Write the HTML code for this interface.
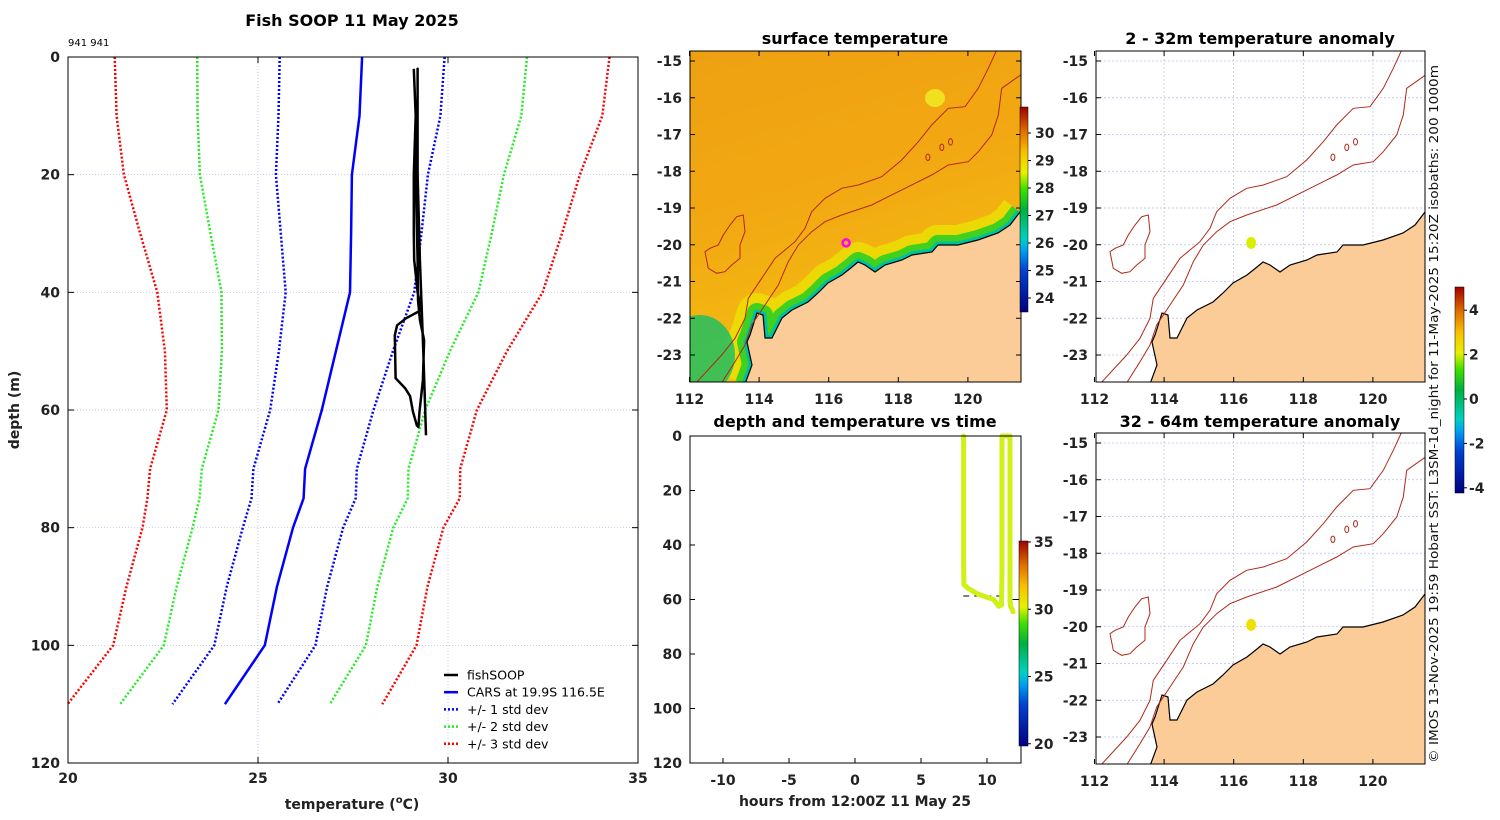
<!DOCTYPE html>
<html><head><meta charset="utf-8"><style>
html,body{margin:0;padding:0;background:#fff;}
svg{display:block;font-family:"DejaVu Sans","Liberation Sans",sans-serif;}
.tk{font-size:14px;font-weight:bold;fill:#222;}
.ttl{font-size:16px;font-weight:bold;fill:#000;}
</style></head><body>
<svg id="fig" width="1500" height="820" viewBox="0 0 1500 820">
<defs>
<linearGradient id="sstbar" x1="0" y1="1" x2="0" y2="0">
<stop offset="0" stop-color="#000080"/><stop offset="0.2" stop-color="#0040d0"/><stop offset="0.3" stop-color="#00a0f0"/><stop offset="0.36" stop-color="#00d0c0"/><stop offset="0.5" stop-color="#00b040"/><stop offset="0.6" stop-color="#40e000"/><stop offset="0.68" stop-color="#e8f000"/><stop offset="0.78" stop-color="#f8c000"/><stop offset="0.88" stop-color="#e07000"/><stop offset="1" stop-color="#a00000"/>
</linearGradient>
<linearGradient id="sstbg" x1="0" y1="0" x2="0.3" y2="1">
<stop offset="0" stop-color="#eea012"/><stop offset="0.5" stop-color="#f2a812"/><stop offset="1" stop-color="#f4c010"/>
</linearGradient>
<clipPath id="clipM"><rect x="690" y="51" width="331" height="331"/></clipPath>
<clipPath id="clipR1"><rect x="1096" y="51" width="329" height="331"/></clipPath>
<clipPath id="clipR2"><rect x="1096" y="433" width="329" height="331"/></clipPath>
</defs>
</svg>
<script>
// ---------- data ----------
const cardDepth = [0,10,20,30,40,50,60,70,75,80,90,100,110];
const cardMean  = [27.74,27.67,27.47,27.45,27.42,27.05,26.68,26.24,26.2,25.92,25.5,25.18,24.13];
const cardSd    = [2.17,2.13,2.0,1.85,1.69,1.5,1.36,1.36,1.37,1.32,1.32,1.33,1.38];
const fishDepth = [2,10,20,30,34.5,40,43,44.4,45.6,47.3,54.6,56.3,57.6,60.3,62.6,62.9,60.3,54.9,48.1,44.7,41.3,34.5,20,10,2,20,34.5,50,64.3];
const fishTemp  = [29.1,29.15,29.1,29.1,29.11,29.2,29.3,28.9,28.66,28.6,28.62,28.87,29.0,29.08,29.18,29.22,29.25,29.34,29.37,29.26,29.21,29.2,29.15,29.2,29.2,29.2,29.26,29.35,29.42];
const xTicks = [20,25,30,35];
const yTicks = [0,20,40,60,80,100,120];
const trackHour  = [8.23,8.23,8.23,8.23,8.25,8.6,9.3,9.9,10.5,10.9,11.1,11.14,11.14,11.14,11.74,11.74,11.74,11.78,11.9,11.97];
const trackDepth = [0,15,30,45,54.5,56,58,59,60,62.5,62,50,25,0,0,30,60,62.5,63.5,64.5];
const hourTicks = [-10,-5,0,5,10];
const sstTicks = [30,29,28,27,26,25,24];
const anomTicks = [4,2,0,-2,-4];
const tempTicks = [35,30,25,20];
const lonTicks = [112,114,116,118,120];
const latTicks = [-15,-16,-17,-18,-19,-20,-21,-22,-23];
// geography (lon,lat)
const refToLL = p => [112+(p[0]-1094.5)/34.8, -15-(p[1]-61)/36.75];
const coastLL = [[1425,212],[1415,225],[1403,233],[1383,240],[1363,245],[1343,245],[1337,252],[1317,255],[1307,260],[1290,265],[1280,272],[1270,265],[1263,262],[1257,267],[1247,275],[1233,283],[1223,293],[1213,302],[1197,310],[1187,318],[1180,332],[1177,338],[1170,338],[1168,315],[1162,313],[1155,335],[1152,342],[1157,365],[1150,384]].map(refToLL);
const iso1000 = [[1401.7,50],[1393.3,68.3],[1383.3,88.3],[1370,106.7],[1353.3,108.3],[1336.7,125],[1323.3,141.7],[1306.7,160],[1286.7,176.7],[1263.3,185],[1246.7,188.3],[1230,198.3],[1216.7,211.7],[1210,228.3],[1200,241.7],[1180,258.3],[1166.7,278.3],[1153.3,298.3],[1150,318.3],[1140,338.3],[1126.7,355],[1100,384]].map(refToLL);
const iso200 = [[1428,73.3],[1406.7,88.3],[1403.3,115],[1396.7,135],[1383.3,151.7],[1373.3,161.7],[1353.3,165],[1336.7,175],[1323.3,181.7],[1303.3,191.7],[1276.7,205],[1246.7,215],[1230,221.7],[1216.7,231.7],[1203.3,245],[1193.3,261.7],[1183.3,285],[1170,305],[1156.7,325],[1150,345],[1140,361.7],[1126,384]].map(refToLL);
const islandLL = [[1148.3,215],[1150,231.7],[1145,245],[1145,258.3],[1136.7,265],[1130,271.7],[1121.7,273.3],[1113.3,268.3],[1110,251.7],[1115,248.3],[1123.3,245],[1128.3,235],[1135,225],[1141.7,216.7]].map(refToLL);
const shipLon = 116.5, shipLat = -19.95;

// ---------- helpers ----------
const NS = 'http://www.w3.org/2000/svg';
const svg = document.getElementById('fig');
function mk(tag, attrs, parent){const e=document.createElementNS(NS,tag);for(const k in attrs)e.setAttribute(k,attrs[k]);(parent||svg).appendChild(e);return e;}
function txt(s, attrs, parent){const e=mk('text',attrs,parent);e.textContent=s;return e;}

// ---------- left profile panel ----------
const L={x0:68,x1:638,y0:57,y1:763};
const px = t => L.x0+(t-20)/15*(L.x1-L.x0);
const py = d => L.y0+d/120*(L.y1-L.y0);
let g = mk('g',{});


for(const t of [25,30]){
  const ln=mk('line',{x1:px(t),x2:px(t),y1:L.y0,y2:L.y1,stroke:'#aab4e6','stroke-width':0.7,'stroke-dasharray':'1,2'},g);
  
  
}
for(const d of [20,40,60,80,100]){
  const ln=mk('line',{x1:L.x0,x2:L.x1,y1:py(d),y2:py(d),stroke:'#aab4e6','stroke-width':0.7,'stroke-dasharray':'1,2'},g);
  
  
}
const sdCols={1:'#0000ff',2:'#22ee22',3:'#ff0000'};
for(const k of [1,2,3]){
  for(const s of [-1,1]){
    const pts=cardDepth.map((d,i)=>px(cardMean[i]+s*k*cardSd[i]).toFixed(1)+','+py(d).toFixed(1)).join(' ');
    const pl=mk('polyline',{points:pts,fill:'none',stroke:sdCols[k],'stroke-width':2.5,'stroke-dasharray':'2,2'},g);
    
    
  }
}
const cars=mk('polyline',{points:cardDepth.map((d,i)=>px(cardMean[i]).toFixed(1)+','+py(d).toFixed(1)).join(' '),fill:'none',stroke:'#0000ff','stroke-width':2.5},g);


const fish=mk('polyline',{points:fishDepth.map((d,i)=>px(fishTemp[i]).toFixed(1)+','+py(d).toFixed(1)).join(' '),fill:'none',stroke:'#000','stroke-width':2.5,'stroke-linejoin':'round'},g);


const lbox=mk('rect',{x:L.x0,y:L.y0,width:L.x1-L.x0,height:L.y1-L.y0,fill:'none',stroke:'#000','stroke-width':1},g);


for(const t of xTicks){
  mk('line',{x1:px(t),x2:px(t),y1:L.y1,y2:L.y1-6,stroke:'#000'},g);
  mk('line',{x1:px(t),x2:px(t),y1:L.y0,y2:L.y0+6,stroke:'#000'},g);
  const e=txt(String(t),{x:px(t),y:L.y1+20,'text-anchor':'middle',class:'tk'},g);
  
  
}
for(const d of yTicks){
  mk('line',{x1:L.x0,x2:L.x0+6,y1:py(d),y2:py(d),stroke:'#000'},g);
  mk('line',{x1:L.x1,x2:L.x1-6,y1:py(d),y2:py(d),stroke:'#000'},g);
  const e=txt(String(d),{x:L.x0-8,y:py(d)+5,'text-anchor':'end',class:'tk'},g);
  
  
}
let e;
e=txt('Fish SOOP 11 May 2025',{x:352,y:26,'text-anchor':'middle',class:'ttl'},g);


e=txt('941 941',{x:68,y:46,'font-size':'10px',fill:'#000'},g);


e=txt('depth (m)',{x:0,y:0,transform:'translate(19,410) rotate(-90)','text-anchor':'middle',class:'tk','font-size':'15px'},g);


e=mk('text',{x:352,y:809,'text-anchor':'middle',class:'tk','font-size':'15px'},g);
e.innerHTML='temperature (<tspan font-size="10px" dy="-6">o</tspan><tspan dy="6">C)</tspan>';


const legItems=[['fishSOOP','#000',null],['CARS at 19.9S 116.5E','#0000ff',null],['+/- 1 std dev','#0000ff','2,2'],['+/- 2 std dev','#22ee22','2,2'],['+/- 3 std dev','#ff0000','2,2']];
legItems.forEach((it,i)=>{
  const y=675+i*17.2;
  const lg=mk('g',{},g);
  
  
  const a={x1:444,x2:458,y1:y,y2:y,stroke:it[1],'stroke-width':2.5};
  if(it[2])a['stroke-dasharray']=it[2];
  mk('line',a,lg);
  txt(it[0],{x:467,y:y+4.5,'font-size':'12.5px',fill:'#000'},lg);
});

// ---------- map helpers ----------
function mapFns(x0,yOff){return {X:lon=>x0+(lon-112)*34.8, Y:lat=>61+yOff+(-15-lat)*36.75};}
function ptsOf(arr,f){return arr.map(p=>f.X(p[0]).toFixed(1)+','+f.Y(p[1]).toFixed(1)).join(' ');}
function landPts(f){return ptsOf(coastLL,f)+' '+f.X(122).toFixed(1)+','+f.Y(-24).toFixed(1)+' '+f.X(122).toFixed(1)+','+f.Y(-19).toFixed(1);}
function mapAxes(gp,f,box,rightTicks){
  for(const lon of lonTicks){
    mk('line',{x1:f.X(lon),x2:f.X(lon),y1:box.y+box.h,y2:box.y+box.h-5,stroke:'#000'},gp);
    mk('line',{x1:f.X(lon),x2:f.X(lon),y1:box.y,y2:box.y+5,stroke:'#000'},gp);
    const t=txt(String(lon),{x:f.X(lon),y:box.y+box.h+22,'text-anchor':'middle',class:'tk','font-size':'15px'},gp);
    
    
  }
  for(const lat of latTicks){
    mk('line',{x1:box.x,x2:box.x+5,y1:f.Y(lat),y2:f.Y(lat),stroke:'#000'},gp);
    if(rightTicks) mk('line',{x1:box.x+box.w,x2:box.x+box.w-5,y1:f.Y(lat),y2:f.Y(lat),stroke:'#000'},gp);
    const t=txt(String(lat),{x:box.x-8,y:f.Y(lat)+5,'text-anchor':'end',class:'tk','font-size':'15px'},gp);
    
    
  }
  const r=mk('rect',{x:box.x,y:box.y,width:box.w,height:box.h,fill:'none',stroke:'#000'},gp);
  
  
}
function isobaths(gp,f){
  for(const [arr,nm] of [[iso1000,'isobath-1000m'],[iso200,'isobath-200m']]){
    const p=mk('polyline',{points:ptsOf(arr,f),fill:'none',stroke:'#b02818','stroke-width':1},gp);
    
    
  }
  const isl=mk('polygon',{points:ptsOf(islandLL,f),fill:'none',stroke:'#b02818','stroke-width':1},gp);
  
  
  for(const [lo,la] of [[118.85,-17.62],[119.25,-17.35],[119.5,-17.2]]){
    mk('ellipse',{cx:f.X(lo),cy:f.Y(la),rx:2,ry:3.2,fill:'none',stroke:'#b02818','stroke-width':1},gp);
  }
}

// ---------- surface temperature map ----------
{
  const f=mapFns(689.5,0), box={x:690,y:51,w:331,h:331};
  const gp=mk('g',{});  
  const cg=mk('g',{'clip-path':'url(#clipM)'},gp);
  mk('rect',{x:690,y:51,width:331,height:331,fill:'url(#sstbg)'},cg);
  mk('polyline',{points:ptsOf(coastLL,f),fill:'none',stroke:'#e8e800','stroke-width':40,'stroke-linejoin':'round',opacity:0.7},cg);
  mk('polyline',{points:ptsOf(coastLL,f),fill:'none',stroke:'#40d020','stroke-width':20,'stroke-linejoin':'round'},cg);
  mk('polyline',{points:ptsOf(coastLL,f),fill:'none',stroke:'#00c0a0','stroke-width':7,'stroke-linejoin':'round'},cg);
  mk('ellipse',{cx:700,cy:355,rx:35,ry:40,fill:'#20c060',opacity:0.85},cg);
  mk('ellipse',{cx:935,cy:98,rx:10,ry:9,fill:'#f0e020'},cg);
  const land=mk('polygon',{points:landPts(f),fill:'#fccc98',stroke:'#000','stroke-width':1.2},cg);
  
  
  isobaths(cg,f);
  const ship=mk('circle',{cx:f.X(shipLon),cy:f.Y(shipLat),r:3.5,fill:'none',stroke:'#ff00ff','stroke-width':2.5},gp);
  
  
  mapAxes(gp,f,box,true);
  const t=txt('surface temperature',{x:855,y:44,'text-anchor':'middle',class:'ttl'},gp);
  
  
  const cb=mk('rect',{x:1020,y:107,width:8,height:205,fill:'url(#sstbar)',stroke:'#000','stroke-width':0.5},gp);
  
  
  const cy=v=>133+(30-v)*27.5;
  for(const v of sstTicks){
    mk('line',{x1:1028,x2:1031,y1:cy(v),y2:cy(v),stroke:'#000'},gp);
    const tt=txt(String(v),{x:1035,y:cy(v)+5,class:'tk','font-size':'13px'},gp);
    
    
  }
}

// ---------- depth vs time panel ----------
{
  const B={x0:690,x1:1021,y0:436,y1:763};
  const hx=h=>855+h*13.2, dy=d=>B.y0+d/120*(B.y1-B.y0);
  const gp=mk('g',{});  
  const dl=mk('line',{x1:hx(8.2),x2:hx(11.2),y1:dy(58.7),y2:dy(58.7),stroke:'#000','stroke-dasharray':'6,5'},gp);
  
  
  mk('line',{x1:hx(11.6),x2:hx(12.5),y1:dy(60),y2:dy(60),stroke:'#000'},gp);
  const tr=mk('polyline',{points:trackHour.map((h,i)=>hx(h).toFixed(1)+','+dy(trackDepth[i]).toFixed(1)).join(' '),fill:'none',stroke:'#d0f018','stroke-width':5,'stroke-linejoin':'round','stroke-linecap':'round'},gp);
  
  
  const r=mk('rect',{x:B.x0,y:B.y0,width:B.x1-B.x0,height:B.y1-B.y0,fill:'none',stroke:'#000'},gp);
  
  
  for(const h of hourTicks){
    mk('line',{x1:hx(h),x2:hx(h),y1:B.y1,y2:B.y1-5,stroke:'#000'},gp);
    const t=txt(String(h),{x:hx(h),y:B.y1+22,'text-anchor':'middle',class:'tk','font-size':'15px'},gp);
    
    
  }
  for(const d of yTicks){
    mk('line',{x1:B.x0,x2:B.x0+5,y1:dy(d),y2:dy(d),stroke:'#000'},gp);
    const t=txt(String(d),{x:B.x0-8,y:dy(d)+5,'text-anchor':'end',class:'tk','font-size':'15px'},gp);
    
    
  }
  let t=txt('depth and temperature vs time',{x:855,y:427,'text-anchor':'middle',class:'ttl'},gp);
  
  
  t=txt('hours from 12:00Z 11 May 25',{x:855,y:806,'text-anchor':'middle',class:'tk','font-size':'15px'},gp);
  
  
  const cb=mk('rect',{x:1019,y:541,width:9,height:205,fill:'url(#sstbar)',stroke:'#000','stroke-width':0.5},gp);
  
  
  const cy=v=>542+(35-v)*13.45;
  for(const v of tempTicks){
    mk('line',{x1:1028,x2:1031,y1:cy(v),y2:cy(v),stroke:'#000'},gp);
    const tt=txt(String(v),{x:1034,y:cy(v)+5,class:'tk','font-size':'13px'},gp);
    
    
  }
}

// ---------- anomaly maps ----------
[[0,'2 - 32m temperature anomaly','clipR1','anomaly-map-2-32m','#d8f000',44],[382,'32 - 64m temperature anomaly','clipR2','anomaly-map-32-64m','#f0e000',427]].forEach(cfg=>{
  const f=mapFns(1094.5,cfg[0]), box={x:1096,y:51+cfg[0],w:329,h:331};
  const gp=mk('g',{});
  
  
  const cg=mk('g',{'clip-path':'url(#'+cfg[2]+')'},gp);
  for(const lon of lonTicks.slice(1)) mk('line',{x1:f.X(lon),x2:f.X(lon),y1:box.y,y2:box.y+box.h,stroke:'#b8c0ec','stroke-width':0.7,'stroke-dasharray':'2,2'},cg);
  for(const lat of latTicks) mk('line',{x1:box.x,x2:box.x+box.w,y1:f.Y(lat),y2:f.Y(lat),stroke:'#b8c0ec','stroke-width':0.7,'stroke-dasharray':'2,2'},cg);
  const land=mk('polygon',{points:landPts(f),fill:'#fccc98',stroke:'#000','stroke-width':1.2},cg);
  
  
  isobaths(cg,f);
  const blob=mk('ellipse',{cx:f.X(shipLon),cy:f.Y(shipLat),rx:5,ry:6,fill:cfg[4]},gp);
  
  
  mapAxes(gp,f,box,false);
  const t=txt(cfg[1],{x:1260,y:cfg[5],'text-anchor':'middle',class:'ttl'},gp);
  
  
});
{
  const cb=mk('rect',{x:1455,y:287,width:9,height:206,fill:'url(#sstbar)',stroke:'#000','stroke-width':0.5});
  
  
  const cy=v=>399-v*22.2;
  for(const v of anomTicks){
    mk('line',{x1:1464,x2:1467,y1:cy(v),y2:cy(v),stroke:'#000'});
    const tt=txt(String(v),{x:1469,y:cy(v)+5,class:'tk','font-size':'12px'});
    
    
  }
  const cr=txt('© IMOS 13-Nov-2025 19:59 Hobart SST: L3SM-1d_night for 11-May-2025 15:20Z isobaths: 200  1000m',{x:0,y:0,transform:'translate(1438,763) rotate(-90)','font-size':'12.5px',fill:'#111',textLength:698,lengthAdjust:'spacingAndGlyphs'});
  
  
}
</script>
</body></html>
